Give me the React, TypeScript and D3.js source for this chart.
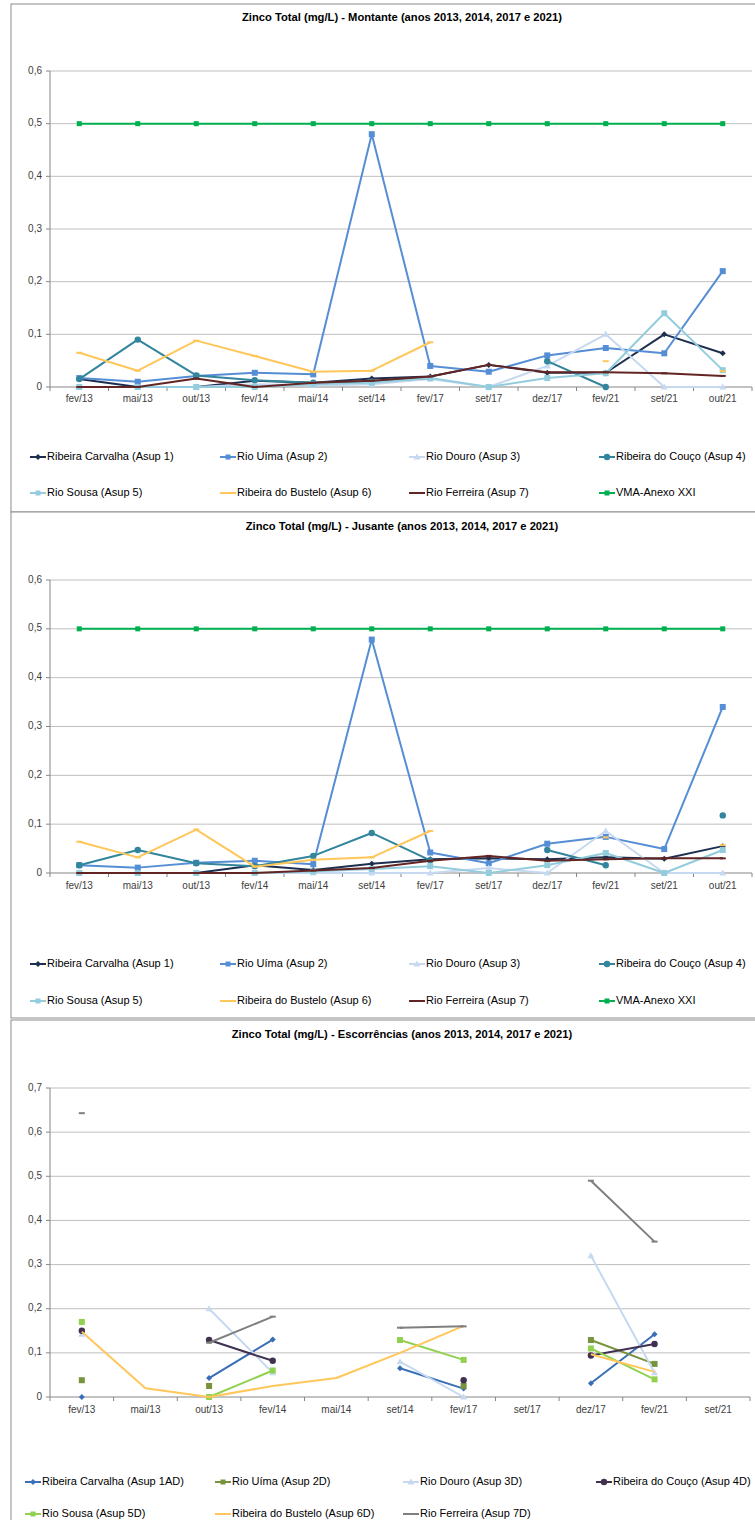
import React from 'react';
import * as d3 from 'd3';

// categories
const monthsRiver = ['fev/13', 'mai/13', 'out/13', 'fev/14', 'mai/14', 'set/14', 'fev/17', 'set/17', 'dez/17', 'fev/21', 'set/21', 'out/21'];
const monthsRunoff = ['fev/13', 'mai/13', 'out/13', 'fev/14', 'mai/14', 'set/14', 'fev/17', 'set/17', 'dez/17', 'fev/21', 'set/21'];

type V = number | null;

// Montante
const upCarvalha: V[] = [0.015, 0, 0, 0.012, 0.008, 0.016, 0.02, 0.042, 0.027, 0.027, 0.1, 0.064];
const upUima: V[] = [0.017, 0.01, 0.021, 0.027, 0.024, 0.48, 0.04, 0.029, 0.06, 0.074, 0.064, 0.22];
const upDouro: V[] = [0, 0, 0, 0.005, 0.003, 0.005, 0.015, 0, 0.04, 0.1, 0, 0];
const upCouco: V[] = [0.015, 0.09, 0.022, 0.013, 0.008, 0.01, 0.017, null, 0.049, 0, null, null];
const upSousa: V[] = [0, 0, 0, 0, 0.005, 0.008, 0.017, 0, 0.017, 0.026, 0.14, 0.032];
const upBustelo: V[] = [0.065, 0.031, 0.088, 0.059, 0.029, 0.031, 0.085, null, null, 0.049, null, 0.03];
const upFerreira: V[] = [0, 0, 0.016, 0, 0.008, 0.012, 0.02, 0.042, 0.028, 0.028, 0.026, 0.021];
const upVma: V[] = [0.5, 0.5, 0.5, 0.5, 0.5, 0.5, 0.5, 0.5, 0.5, 0.5, 0.5, 0.5];

// Jusante
const downCarvalha: V[] = [0, 0, 0, 0.016, 0.006, 0.019, 0.028, 0.03, 0.028, 0.032, 0.029, 0.055];
const downUima: V[] = [0.016, 0.011, 0.021, 0.025, 0.018, 0.478, 0.042, 0.02, 0.06, 0.074, 0.049, 0.34];
const downDouro: V[] = [0, 0, 0, 0, 0, 0, 0, 0.01, 0, 0.086, 0, 0];
const downCouco: V[] = [0.016, 0.047, 0.02, 0.014, 0.035, 0.082, 0.026, null, 0.047, 0.016, null, 0.118];
const downSousa: V[] = [0, 0, 0, 0, 0.003, 0.008, 0.014, 0, 0.016, 0.041, 0, 0.047];
const downBustelo: V[] = [0.064, 0.032, 0.089, 0.013, 0.027, 0.032, 0.086, null, null, 0.073, null, 0.057];
const downFerreira: V[] = [0, 0, 0, 0, 0.005, 0.01, 0.025, 0.035, 0.025, 0.028, 0.03, 0.03];
const downVma: V[] = [0.5, 0.5, 0.5, 0.5, 0.5, 0.5, 0.5, 0.5, 0.5, 0.5, 0.5, 0.5];

// Escorrências
const runCarvalha: V[] = [0, null, 0.043, 0.13, null, 0.065, 0.019, null, 0.031, 0.142, null];
const runUima: V[] = [0.038, null, 0.025, null, null, null, 0.025, null, 0.129, 0.075, null];
const runDouro: V[] = [0.142, null, 0.2, 0.055, null, 0.08, 0, null, 0.32, 0.055, null];
const runCouco: V[] = [0.15, null, 0.129, 0.082, null, null, 0.038, null, 0.094, 0.12, null];
const runSousa: V[] = [0.17, null, 0, 0.06, null, 0.129, 0.084, null, 0.11, 0.04, null];
const runBustelo: V[] = [0.148, 0.02, 0, 0.025, 0.043, 0.1, 0.161, null, 0.097, 0.057, null];
const runFerreira: V[] = [0.643, null, 0.123, 0.182, null, 0.157, 0.16, null, 0.49, 0.352, null];

const riverTicks = [0, 0.1, 0.2, 0.3, 0.4, 0.5, 0.6];
const runoffTicks = [0, 0.1, 0.2, 0.3, 0.4, 0.5, 0.6, 0.7];

type Marker = 'diamond' | 'square' | 'triangle' | 'circle' | 'dash' | 'none';
interface Series { name: string; values: V[]; color: string; marker: Marker; size?: number }

const riverSeries = (vals: V[][]): Series[] => [
  { name: 'Ribeira Carvalha (Asup 1)', values: vals[0], color: '#1c2f4f', marker: 'diamond' },
  { name: 'Rio Uíma (Asup 2)', values: vals[1], color: '#558ed5', marker: 'square' },
  { name: 'Rio Douro (Asup 3)', values: vals[2], color: '#c6d9f1', marker: 'triangle' },
  { name: 'Ribeira do Couço (Asup 4)', values: vals[3], color: '#31859c', marker: 'circle' },
  { name: 'Rio Sousa (Asup 5)', values: vals[4], color: '#93cddd', marker: 'square' },
  { name: 'Ribeira do Bustelo (Asup 6)', values: vals[5], color: '#ffc65a', marker: 'dash' },
  { name: 'Rio Ferreira (Asup 7)', values: vals[6], color: '#632523', marker: 'dash' },
  { name: 'VMA-Anexo XXI', values: vals[7], color: '#00b050', marker: 'square', size: 5 },
];

const runoffSeries: Series[] = [
  { name: 'Ribeira Carvalha (Asup 1AD)', values: runCarvalha, color: '#3a6fb7', marker: 'diamond' },
  { name: 'Rio Uíma (Asup 2D)', values: runUima, color: '#77933c', marker: 'square' },
  { name: 'Rio Douro (Asup 3D)', values: runDouro, color: '#c6d9f1', marker: 'triangle' },
  { name: 'Ribeira do Couço (Asup 4D)', values: runCouco, color: '#403151', marker: 'circle' },
  { name: 'Rio Sousa (Asup 5D)', values: runSousa, color: '#92d050', marker: 'square' },
  { name: 'Ribeira do Bustelo (Asup 6D)', values: runBustelo, color: '#ffc65a', marker: 'none' },
  { name: 'Rio Ferreira (Asup 7D)', values: runFerreira, color: '#7f7f7f', marker: 'dash' },
];

const FONT = '"Liberation Sans Narrow", "Liberation Sans", sans-serif';

const MarkerShape: React.FC<{ type: Marker; x: number; y: number; color: string; size?: number }> = ({ type, x, y, color, size = 6 }) => {
  if (type === 'square') return <rect x={x - size / 2} y={y - size / 2} width={size} height={size} fill={color} />;
  if (type === 'circle') return <circle cx={x} cy={y} r={3.2} fill={color} />;
  if (type === 'diamond') return <path d={`M${x},${y - 3}L${x + 3},${y}L${x},${y + 3}L${x - 3},${y}Z`} fill={color} />;
  if (type === 'triangle') return <path d={`M${x},${y - 3.5}L${x + 3.5},${y + 2.5}L${x - 3.5},${y + 2.5}Z`} fill={color} />;
  if (type === 'dash') return <line x1={x - 3} x2={x + 3} y1={y} y2={y} stroke={color} strokeWidth={2} />;
  return null;
};

interface ChartProps {
  top: number; bottom: number; title: string; categories: string[]; series: Series[]; ticks: number[];
  plotTop: number; plotBottom: number; plotRight: number; labelY: number; legendRows: number[];
  legendCols: number[]; titleY: number;
}

const LineChart: React.FC<ChartProps> = (p) => {
  const left = 50;
  const x = d3.scaleBand<string>().domain(p.categories).range([left, p.plotRight]);
  const y = d3.scaleLinear().domain([0, d3.max(p.ticks)!]).range([p.plotBottom, p.plotTop]);
  const cx = (c: string) => x(c)! + x.bandwidth() / 2;
  const line = d3.line<V>()
    .defined(d => d !== null)
    .x((_, i) => cx(p.categories[i]))
    .y(d => y(d as number));

  return (
    <g>
      <rect x={11} y={p.top} width={760} height={p.bottom - p.top} fill="#fff" stroke="#8c8c8c" strokeWidth={1} />
      <text x={402} y={p.titleY} textAnchor="middle" dominantBaseline="middle" fontWeight="bold" fontSize={11.2} fill="#000" fontFamily={FONT}>{p.title}</text>
      {p.ticks.map(t => (
        <g key={t}>
          {t > 0 && <line x1={left} x2={p.plotRight} y1={y(t)} y2={y(t)} stroke="#bfbfbf" strokeWidth={1} />}
          <line x1={left - 4} x2={left} y1={y(t)} y2={y(t)} stroke="#868686" />
          <text x={left - 8} y={y(t)} textAnchor="end" dominantBaseline="middle" fontSize={10} fill="#404040" fontFamily={FONT}>
            {t === 0 ? '0' : d3.format('.1f')(t).replace('.', ',')}
          </text>
        </g>
      ))}
      <line x1={left} x2={left} y1={p.plotTop} y2={p.plotBottom} stroke="#868686" />
      <line x1={left} x2={p.plotRight} y1={p.plotBottom} y2={p.plotBottom} stroke="#868686" />
      {p.categories.map(c => (
        <g key={c}>
          <line x1={x(c)!} x2={x(c)!} y1={p.plotBottom} y2={p.plotBottom + 4} stroke="#868686" />
          <text x={cx(c)} y={p.labelY} textAnchor="middle" dominantBaseline="middle" fontSize={10} fill="#404040" fontFamily={FONT}>{c}</text>
        </g>
      ))}
      <line x1={p.plotRight} x2={p.plotRight} y1={p.plotBottom} y2={p.plotBottom + 4} stroke="#868686" />
      {p.series.map(s => (
        <g key={s.name}>
          <path d={line(s.values) || ''} fill="none" stroke={s.color} strokeWidth={2} strokeLinejoin="round" />
          {s.values.map((v, i) => v === null ? null : (
            <MarkerShape key={i} type={s.marker} x={cx(p.categories[i])} y={y(v)} color={s.color} size={s.size} />
          ))}
        </g>
      ))}
      {p.series.map((s, i) => {
        const lx = p.legendCols[i % 4];
        const ly = p.legendRows[Math.floor(i / 4)];
        return (
          <g key={'lg' + s.name}>
            <line x1={lx - 17} x2={lx - 1} y1={ly} y2={ly} stroke={s.color} strokeWidth={2} />
            <MarkerShape type={s.marker === 'dash' ? 'none' : s.marker} x={lx - 9} y={ly} color={s.color} size={s.size ?? 5} />
            <text x={lx} y={ly} dominantBaseline="middle" fontSize={11} fill="#000" fontFamily={FONT}>{s.name}</text>
          </g>
        );
      })}
    </g>
  );
};

export default function App() {
  return (
    <div style={{ position: 'absolute', left: 0, top: 0 }}>
      <svg width={755} height={1520} style={{ display: 'block', background: '#fff' }}>
        <LineChart
          top={4} bottom={512} titleY={18}
          title="Zinco Total (mg/L) - Montante (anos 2013, 2014, 2017 e 2021)"
          categories={monthsRiver}
          series={riverSeries([upCarvalha, upUima, upDouro, upCouco, upSousa, upBustelo, upFerreira, upVma])}
          ticks={riverTicks} plotTop={71} plotBottom={387} plotRight={752} labelY={399}
          legendRows={[457, 493]} legendCols={[47, 237, 426, 616]}
        />
        <LineChart
          top={512} bottom={1018} titleY={527}
          title="Zinco Total (mg/L) - Jusante (anos 2013, 2014, 2017 e 2021)"
          categories={monthsRiver}
          series={riverSeries([downCarvalha, downUima, downDouro, downCouco, downSousa, downBustelo, downFerreira, downVma])}
          ticks={riverTicks} plotTop={580} plotBottom={873} plotRight={752} labelY={886}
          legendRows={[964, 1001]} legendCols={[47, 237, 426, 616]}
        />
        <LineChart
          top={1020} bottom={1530} titleY={1035}
          title="Zinco Total (mg/L) - Escorrências (anos 2013, 2014, 2017 e 2021)"
          categories={monthsRunoff}
          series={runoffSeries}
          ticks={runoffTicks} plotTop={1088} plotBottom={1397} plotRight={750} labelY={1410}
          legendRows={[1482, 1514]} legendCols={[42, 232, 420, 613]}
        />
      </svg>
    </div>
  );
}
